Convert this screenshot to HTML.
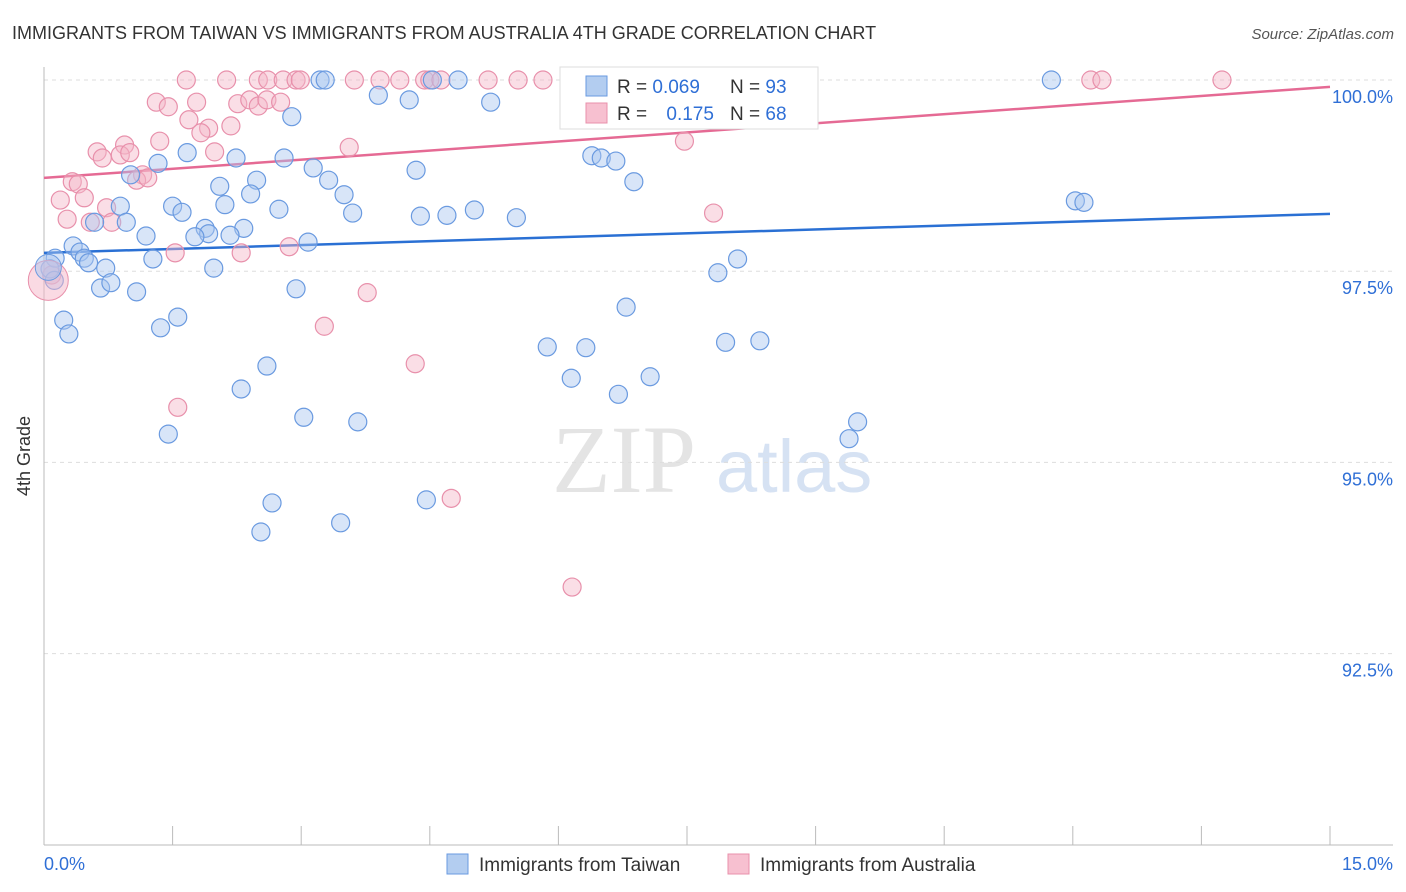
<!DOCTYPE html>
<html><head><meta charset="utf-8"><style>
body{margin:0;background:#fff;font-family:"Liberation Sans",sans-serif;}
svg{display:block}
</style></head><body>
<svg id="chart" width="1406" height="892">
<text x="12" y="39" font-size="18" fill="#333">IMMIGRANTS FROM TAIWAN VS IMMIGRANTS FROM AUSTRALIA 4TH GRADE CORRELATION CHART</text>
<text x="1394" y="39" font-size="15" fill="#555" font-style="italic" text-anchor="end">Source: ZipAtlas.com</text>
<text x="30" y="456" font-size="18" fill="#333" text-anchor="middle" transform="rotate(-90 30 456)">4th Grade</text>
<g>
<text x="552" y="492" font-size="96" font-family="Liberation Serif,serif" fill="#e4e4e4">ZIP</text>
<text x="716" y="492" font-size="74" fill="#d6e2f3">atlas</text>
</g>
<g id="grid"></g><g id="axes"></g><g id="trend"></g><g id="pts"></g>
<g>
<rect x="560" y="67" width="258" height="62" fill="#fff" stroke="#ddd"/>
<rect x="586" y="76" width="21" height="20" fill="#b3cdf0" stroke="#6a9ae0"/>
<text x="617" y="93" font-size="19" fill="#333">R = <tspan fill="#2f6fd6">0.069</tspan></text>
<text x="730" y="93" font-size="19" fill="#333">N = <tspan fill="#2f6fd6">93</tspan></text>
<rect x="586" y="103" width="21" height="20" fill="#f7c0d0" stroke="#e890ab"/>
<text x="617" y="120" font-size="19" fill="#333">R = <tspan fill="#2f6fd6" dx="14">0.175</tspan></text>
<text x="730" y="120" font-size="19" fill="#333">N = <tspan fill="#2f6fd6">68</tspan></text>
</g>
<g>
<rect x="447" y="854" width="21" height="20" fill="#b3cdf0" stroke="#6a9ae0"/>
<text x="479" y="871" font-size="19" fill="#333">Immigrants from Taiwan</text>
<rect x="728" y="854" width="21" height="20" fill="#f7c0d0" stroke="#e890ab"/>
<text x="760" y="871" font-size="19" fill="#333">Immigrants from Australia</text>
</g>
</svg>
<script>
const yTicks=[100,97.5,95,92.5];
const yTickLabels=["100.0%","97.5%","95.0%","92.5%"];
const xLabels=["0.0%","15.0%"];
const taiwanX=[3.22,3.28,4.53,4.83,11.75,3.90,4.26,5.21,2.89,1.67,1.33,2.24,2.80,3.14,1.01,2.48,3.32,4.34,6.39,6.50,6.67,6.88,2.05,2.41,3.50,1.50,1.61,0.89,2.11,2.74,3.60,4.39,4.70,5.02,5.51,12.03,12.13,0.96,0.59,1.88,1.92,2.33,1.19,1.76,2.17,3.08,0.34,0.42,0.13,0.47,0.52,1.27,0.07,0.72,1.98,0.12,0.66,0.78,1.08,2.94,8.09,7.86,6.79,0.23,1.56,1.36,0.29,5.87,6.32,7.95,8.35,2.60,6.15,7.07,2.30,6.70,3.03,3.66,9.49,9.39,1.45,2.66,4.46,3.46,2.53,6.25,7.19,6.57];
const taiwanY=[100,100,100,100,100,99.80,99.74,99.71,99.52,99.05,98.91,98.98,98.98,98.85,98.76,98.69,98.69,98.82,99.01,98.98,98.94,98.67,98.61,98.51,98.50,98.35,98.27,98.35,98.37,98.31,98.26,98.22,98.23,98.30,98.20,98.42,98.40,98.14,98.14,98.06,97.99,98.06,97.96,97.95,97.97,97.88,97.83,97.75,97.67,97.67,97.61,97.66,97.53,97.54,97.54,97.38,97.28,97.35,97.23,97.27,97.66,97.48,97.03,96.86,96.90,96.76,96.68,96.51,96.50,96.57,96.59,96.26,96.10,96.12,95.96,95.89,95.59,95.53,95.53,95.31,95.37,94.47,94.51,94.21,94.09,100,100,99.48];
const australiaX=[1.66,2.13,2.50,2.61,2.79,2.94,2.99,3.62,3.92,4.15,4.44,4.50,4.63,5.18,5.53,5.82,6.31,12.21,12.34,13.74,1.31,1.45,1.78,2.26,2.40,2.50,2.60,2.76,1.69,1.92,1.83,2.18,1.35,0.94,3.56,1.99,0.62,0.68,0.89,1.00,7.47,0.33,0.40,1.15,1.08,1.21,0.19,0.47,0.73,0.27,0.54,0.79,7.81,1.53,2.30,2.86,0.09,3.77,3.27,4.33,1.56,4.75,6.16,6.88];
const australiaY=[100,100,100,100,100,100,100,100,100,100,100,100,100,100,100,100,100,100,100,100,99.71,99.65,99.71,99.69,99.74,99.66,99.74,99.71,99.48,99.37,99.31,99.40,99.20,99.15,99.12,99.06,99.06,98.98,99.02,99.05,99.20,98.67,98.64,98.76,98.69,98.72,98.43,98.46,98.33,98.18,98.14,98.14,98.26,97.74,97.74,97.82,97.45,97.22,96.78,96.29,95.72,94.53,93.37,99.48];
const bigX=[0.05,0.05];const bigY=[97.38,97.55];
const trendTaiwan=[97.74,98.25];
const trendAustralia=[98.72,99.91];
const NS="http://www.w3.org/2000/svg";
const X=v=>44+v/15*1286;
const Y=v=>80+(100-v)/2.5*191.2;
function mk(t,a,p){const e=document.createElementNS(NS,t);for(const k in a)e.setAttribute(k,a[k]);document.getElementById(p).appendChild(e);return e;}
yTicks.forEach((t,i)=>{
 const l=mk('line',{x1:44,x2:1393,y1:Y(t),y2:Y(t),stroke:'#ddd','stroke-dasharray':'4 4'},'grid');
 
 
 const tx=mk('text',{x:1393,y:Y(t)+23,'font-size':18,fill:'#2f6fd6','text-anchor':'end'},'axes');
 tx.textContent=yTickLabels[i];
 
 
});
const ax=mk('line',{x1:44,x2:44,y1:67,y2:845,stroke:'#bbb'},'axes');


const bx=mk('line',{x1:44,x2:1393,y1:845,y2:845,stroke:'#bbb'},'axes');


for(let i=0;i<=10;i++){
 const t=mk('line',{x1:X(i*1.5),x2:X(i*1.5),y1:826,y2:845,stroke:'#bbb'},'axes');
 
 
}
[[0,'start',44],[15,'end',1393]].forEach((d,i)=>{
 const t=mk('text',{x:d[2],y:870,'font-size':18,fill:'#2f6fd6','text-anchor':d[1]},'axes');
 t.textContent=xLabels[i];
 
 
});
function pts(xs,ys,fill,stroke,name,r){xs.forEach((x,i)=>{
 const c=mk('circle',{cx:X(x),cy:Y(ys[i]),r:r,fill:fill,'fill-opacity':0.45,stroke:stroke,'stroke-width':1.2},'pts');
 
 
});}
pts(australiaX,australiaY,'#f5b5c8','#e890ab','australia-point',9);
pts(taiwanX,taiwanY,'#a9c6ef','#6a9ae0','taiwan-point',9);
const b1=mk('circle',{cx:X(bigX[0]),cy:Y(bigY[0]),r:20,fill:'#f5b5c8','fill-opacity':0.5,stroke:'#e890ab'},'pts');


const b2=mk('circle',{cx:X(bigX[1]),cy:Y(bigY[1]),r:13,fill:'#a9c6ef','fill-opacity':0.5,stroke:'#6a9ae0'},'pts');


const t1=mk('line',{x1:X(0),x2:X(15),y1:Y(trendTaiwan[0]),y2:Y(trendTaiwan[1]),stroke:'#2a70d4','stroke-width':2.5},'trend');


const t2=mk('line',{x1:X(0),x2:X(15),y1:Y(trendAustralia[0]),y2:Y(trendAustralia[1]),stroke:'#e56a94','stroke-width':2.5},'trend');


</script>
</body></html>
